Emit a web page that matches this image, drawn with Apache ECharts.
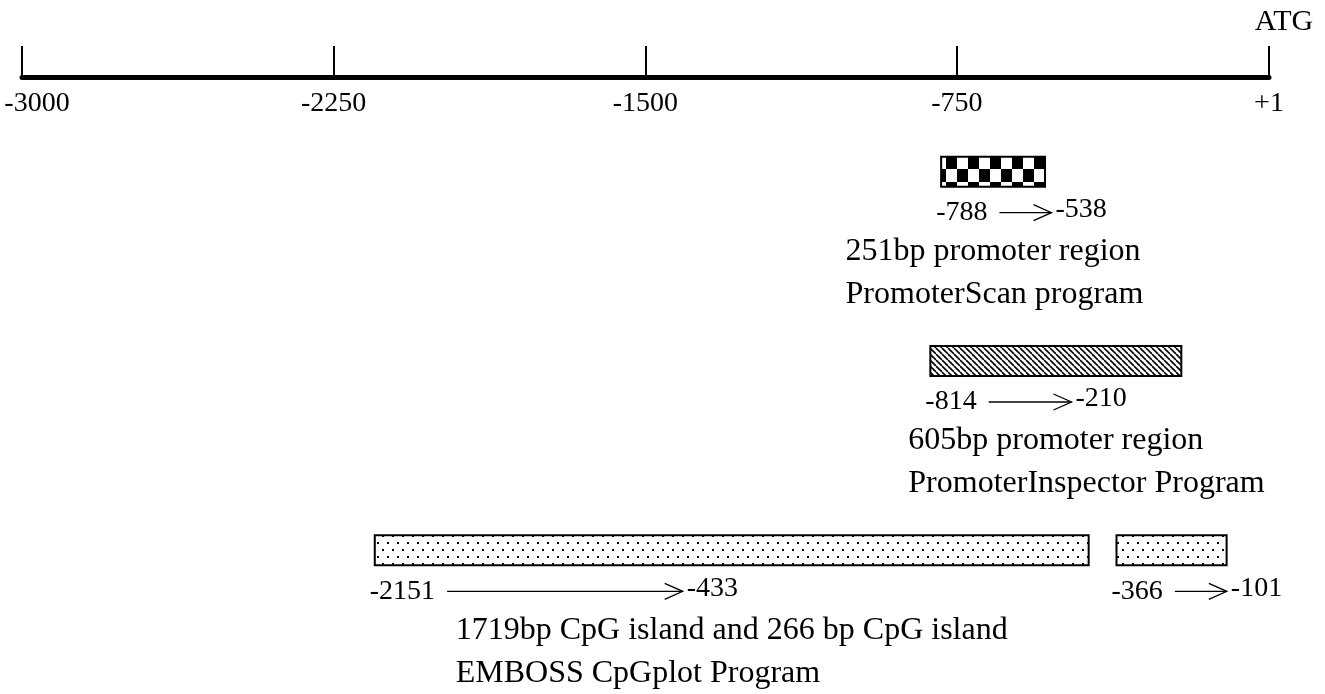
<!DOCTYPE html>
<html>
<head>
<meta charset="utf-8">
<script src="https://cdn.jsdelivr.net/npm/echarts@6/dist/echarts.min.js"></script>
<style>
  html, body { margin: 0; padding: 0; background: #fff; }
  #main { width: 1325px; height: 694px; }
</style>
</head>
<body>
<div id="main"></div>
<script>
// axis ticks (bp upstream of ATG)
const tickValues = [-3000, -2250, -1500, -750, 1];
// tracks, one per prediction program
const tracks = ['PromoterScan', 'PromoterInspector', 'EMBOSS CpGplot'];
// predicted regions
const regionStart = [-788, -814, -2151, -366];
const regionEnd = [-538, -210, -433, -101];
const regionTrack = [0, 1, 2, 2];
const regionFill = ['checker', 'hatch', 'dots', 'dots'];
// notes under each track
const trackNotes = [
  ['251bp promoter region', 'PromoterScan program'],
  ['605bp promoter region', 'PromoterInspector Program'],
  ['1719bp CpG island and 266 bp CpG island', 'EMBOSS CpGplot Program']
];

const FONT = '"Liberation Serif", "Times New Roman", serif';
const numSize = 28;
const noteSize = 32;

// text width helper
const measureCtx = document.createElement('canvas').getContext('2d');
function textW(s, size) {
  measureCtx.font = size + 'px ' + FONT;
  return measureCtx.measureText(s).width;
}

// fill patterns
function makeTile(w, h, draw) {
  const c = document.createElement('canvas');
  c.width = w;
  c.height = h;
  const g = c.getContext('2d');
  g.fillStyle = '#fff';
  g.fillRect(0, 0, w, h);
  g.fillStyle = '#000';
  g.strokeStyle = '#000';
  draw(g);
  return c;
}
const patterns = {
  checker: makeTile(22, 26, g => {
    g.fillRect(0, 0, 11, 13);
    g.fillRect(11, 13, 11, 13);
  }),
  hatch: makeTile(6, 6, g => {
    g.lineWidth = 1.6;
    [-6, 0, 6].forEach(k => {
      g.beginPath();
      g.moveTo(k, 0);
      g.lineTo(k + 6, 6);
      g.stroke();
    });
  }),
  dots: makeTile(10, 14, g => {
    g.fillRect(2, 3, 2, 2);
    g.fillRect(7, 10, 2, 2);
  })
};

function fmt(v) {
  return v > 0 ? '+' + v : String(v);
}

const chart = echarts.init(document.getElementById('main'));

const option = {
  animation: false,
  grid: { left: 22, right: 56, top: 77, bottom: 49 },
  xAxis: {
    type: 'value',
    position: 'top',
    min: -3000,
    max: 1,
    name: 'ATG',
    nameLocation: 'end',
    nameGap: 15,
    nameTextStyle: {
      fontFamily: FONT,
      fontSize: 30,
      color: '#000',
      align: 'center',
      verticalAlign: 'bottom',
      padding: [0, 0, 40, 0]
    },
    splitLine: { show: false },
    axisLine: { show: true, lineStyle: { color: '#000', width: 5 } },
    axisTick: {
      show: true,
      customValues: tickValues,
      length: 31,
      lineStyle: { color: '#000', width: 2 }
    },
    axisLabel: {
      show: true,
      customValues: tickValues,
      inside: true,
      margin: 13,
      color: '#000',
      fontFamily: FONT,
      fontSize: numSize,
      formatter: v => (v === tickValues[0] ? '{first|' + fmt(v) + '}' : fmt(v)),
      rich: {
        first: { fontFamily: FONT, fontSize: numSize, color: '#000', padding: [0, 0, 0, 30] }
      }
    }
  },
  yAxis: {
    type: 'category',
    data: tracks,
    inverse: true,
    show: false
  },
  series: [
    {
      type: 'custom',
      clip: false,
      encode: { x: [0, 1], y: 2 },
      data: regionStart.map((s, i) => [s, regionEnd[i], regionTrack[i], i]),
      renderItem: function (params, api) {
        const s = api.value(0);
        const e = api.value(1);
        const t = api.value(2);
        const i = api.value(3);
        const p0 = api.coord([s, t]);
        const p1 = api.coord([e, t]);
        const cy = p0[1];
        const barH = 30;
        const children = [];

        // the region bar
        children.push({
          type: 'rect',
          shape: { x: p0[0], y: cy - barH / 2, width: p1[0] - p0[0], height: barH },
          style: {
            fill: { image: patterns[regionFill[i]], repeat: 'repeat' },
            stroke: '#000',
            lineWidth: 2
          }
        });

        // start label -> end label
        const sLab = String(s);
        const eLab = String(e);
        const lx = p0[0] - 5;
        const ly = cy + 41;
        children.push({
          type: 'text',
          style: { text: sLab, x: lx, y: ly, font: numSize + 'px ' + FONT, fill: '#000', align: 'left', verticalAlign: 'middle' }
        });
        const ax0 = lx + textW(sLab, numSize) + 12;
        const ax1 = ax0 + Math.max(52, 0.33 * (p1[0] - p0[0]));
        children.push({
          type: 'line',
          shape: { x1: ax0, y1: ly, x2: ax1, y2: ly },
          style: { stroke: '#000', lineWidth: 1.3 }
        });
        children.push({
          type: 'polyline',
          shape: { points: [[ax1 - 18, ly - 8], [ax1, ly], [ax1 - 18, ly + 8]] },
          style: { stroke: '#000', lineWidth: 1.3, fill: null }
        });
        children.push({
          type: 'text',
          style: { text: eLab, x: ax1 + 4, y: ly - 3, font: numSize + 'px ' + FONT, fill: '#000', align: 'left', verticalAlign: 'middle' }
        });

        // track notes, centred under the first region of the track
        if (regionTrack.indexOf(t) === i) {
          const notes = trackNotes[t];
          const nx = (p0[0] + p1[0]) / 2 - textW(notes[0], noteSize) / 2;
          notes.forEach((n, k) => {
            children.push({
              type: 'text',
              style: { text: n, x: nx, y: cy + 80 + k * 43, font: noteSize + 'px ' + FONT, fill: '#000', align: 'left', verticalAlign: 'middle' }
            });
          });
        }

        return { type: 'group', children: children };
      }
    }
  ]
};

chart.setOption(option);
</script>
</body>
</html>
